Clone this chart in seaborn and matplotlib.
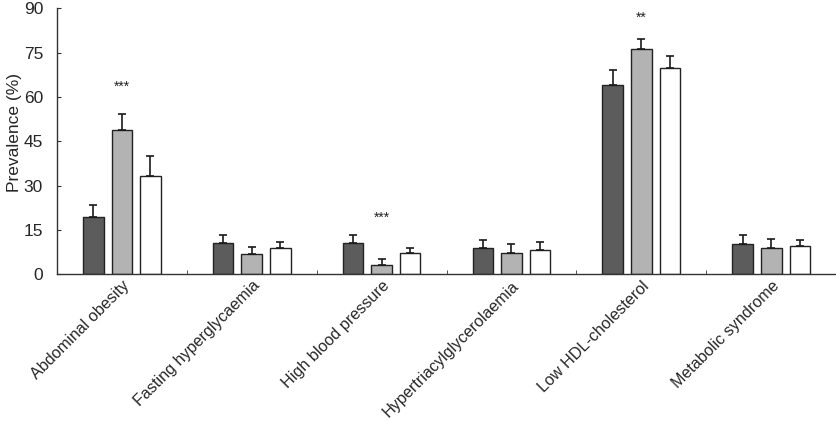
import matplotlib
matplotlib.use("Agg")
import matplotlib.pyplot as plt
import seaborn as sns
import pandas as pd
import numpy as np

categories = ["Abdominal obesity", "Fasting hyperglycaemia", "High blood pressure",
              "Hypertriacylglycerolaemia", "Low HDL-cholesterol", "Metabolic syndrome"]
groups = ["Group 1", "Group 2", "Group 3"]
values_g1 = [19.4, 10.6, 10.6, 8.7, 64.2, 10.2]
values_g2 = [48.7, 6.7, 3.1, 7.2, 76.2, 8.8]
values_g3 = [33.3, 8.7, 7.1, 8.0, 69.9, 9.4]
upper_g1 = [23.5, 13.3, 13.3, 11.6, 69.2, 13.3]
upper_g2 = [54.2, 9.2, 5.2, 10.1, 79.5, 12.0]
upper_g3 = [40.1, 10.8, 9.0, 10.8, 73.9, 11.7]
sig_labels = ["***", "", "***", "", "**", ""]
sig_heights = [63.5, 0, 19.0, 0, 86.8, 0]
yticks = [0, 15, 30, 45, 60, 75, 90]

rows = []
for g, vals, ups in zip(groups, [values_g1, values_g2, values_g3], [upper_g1, upper_g2, upper_g3]):
    for c, v, u in zip(categories, vals, ups):
        rows.append({"category": c, "group": g, "value": v, "upper": u})
df = pd.DataFrame(rows)

sns.set_style("white")
plt.rcParams["font.family"] = ["Liberation Sans", "DejaVu Sans"]

fig = plt.figure(figsize=(8.37, 4.21), dpi=100)
ax = fig.add_axes([0.068, 0.349, 0.931, 0.631])

palette = {"Group 1": "#5c5c5c", "Group 2": "#b3b3b3", "Group 3": "#ffffff"}
sns.barplot(data=df, x="category", y="value", hue="group", order=categories,
            hue_order=groups, palette=palette, width=0.66, gap=0.28,
            edgecolor="#222222", linewidth=1.0, errorbar=None, legend=False,
            saturation=1, ax=ax)

# error bars (upper only)
for container, g in zip(ax.containers, groups):
    sub = df[df["group"] == g].set_index("category").loc[categories]
    xs = [p.get_x() + p.get_width() / 2 for p in container.patches]
    hs = [p.get_height() for p in container.patches]
    err = sub["upper"].values - np.array(hs)
    ax.errorbar(xs, hs, yerr=[np.zeros(len(hs)), err], fmt="none",
                ecolor="#1a1a1a", elinewidth=1.2, capsize=2.7, capthick=1.2, zorder=1)

for i, (s, h) in enumerate(zip(sig_labels, sig_heights)):
    if s:
        ax.text(i, h, s, ha="center", va="center", fontsize=10, color="#222222")

ax.set_xlim(-0.5, 5.5)
ax.set_ylim(0, 90)
ax.set_yticks(yticks)
ax.set_yticklabels([str(t) for t in yticks], fontsize=12.5)
ax.set_xticks(range(len(categories)))
ax.set_xticklabels(categories, rotation=45, ha="right", rotation_mode="anchor", fontsize=11.6)
ax.set_xticks(np.arange(0.5, 5.6, 1.0), minor=True)
ax.tick_params(axis="x", which="major", length=0, pad=3)
ax.tick_params(axis="x", which="minor", length=3, direction="in", color="#333333", bottom=True)
ax.tick_params(axis="y", length=3, direction="in", color="#333333", left=True, pad=10)
ax.set_xlabel("")
ax.set_ylabel("Prevalence (%)", fontsize=12.5)
ax.yaxis.set_label_coords(-0.045, 0.533)
for sp in ["top", "right"]:
    ax.spines[sp].set_visible(False)
for sp in ["left", "bottom"]:
    ax.spines[sp].set_color("#333333")
    ax.spines[sp].set_linewidth(1.0)

fig.savefig("out.png", dpi=100)
